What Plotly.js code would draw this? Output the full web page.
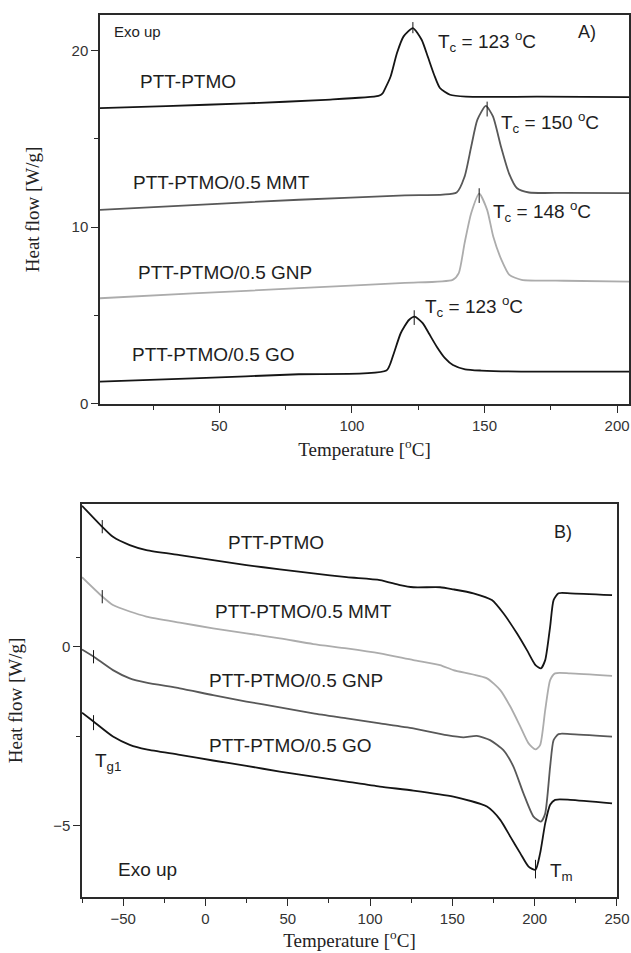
<!DOCTYPE html>
<html>
<head>
<meta charset="utf-8">
<script src="https://cdn.plot.ly/plotly-3.0.1.min.js"></script>
<style>html,body{margin:0;padding:0;background:#fff;}#chart{width:631px;height:953px;}</style>
</head>
<body>
<div id="chart"></div>
<script>
// ---------- Panel A (cooling, crystallization) ----------
const aPTT_T = [5, 30, 60, 90, 110, 111.5, 112.3, 114.6, 117, 119.5, 123, 126.3, 128.6, 131, 133.2, 137, 143, 170, 204.5];
const aPTT_V = [16.73, 16.85, 17.0, 17.2, 17.42, 17.55, 17.77, 18.52, 19.85, 20.79, 21.26, 20.6, 19.65, 18.62, 17.87, 17.49, 17.38, 17.38, 17.36];

const aMMT_T = [5, 40, 80, 120, 139.5, 142.5, 145, 147.3, 150.5, 153.2, 156.2, 159.2, 162.3, 166.8, 180, 204.5];
const aMMT_V = [10.98, 11.25, 11.55, 11.8, 11.96, 12.86, 14.56, 16.07, 16.86, 16.26, 14.56, 13.06, 12.2, 11.96, 11.94, 11.92];

const aGNP_T = [5, 40, 80, 120, 138, 140.3, 142.5, 145, 148, 151, 153.3, 156.4, 159.4, 164, 180, 204.5];
const aGNP_V = [5.98, 6.25, 6.55, 6.85, 7.02, 7.4, 9.1, 10.8, 11.9, 10.98, 9.47, 8.15, 7.3, 7.02, 6.97, 6.92];

const aGO_T = [5, 40, 80, 113, 115.4, 118.4, 121.5, 123.7, 126.7, 129, 132, 135.1, 138.1, 142.7, 148.7, 163.8, 204.5];
const aGO_V = [1.26, 1.45, 1.68, 1.89, 2.68, 4.0, 4.75, 4.94, 4.57, 4.0, 3.24, 2.59, 2.2, 1.96, 1.89, 1.83, 1.83];

// peak markers (Tc)
const tcT = [123, 151, 148, 123.5];
const tcTop = [21.6, 17.1, 12.2, 5.3];
const tcBot = [20.97, 16.26, 11.37, 4.47];

// ---------- Panel B (heating, melting) ----------
const bPTT_T = [-75, -62.7, -56.2, -46, -35.9, -15.6, 4.6, 24.9, 45.2, 65.5, 85.8, 106, 118.2, 126.3, 142.5, 150.6, 162.8, 174, 181, 189.2, 195.3, 200.5, 203.8, 206.4, 209.4, 211.5, 214.5, 221.6, 247];
const bPTT_V = [3.95, 3.36, 3.08, 2.85, 2.71, 2.57, 2.43, 2.29, 2.17, 2.06, 1.95, 1.87, 1.73, 1.67, 1.67, 1.61, 1.50, 1.31, 0.94, 0.38, -0.09, -0.51, -0.60, -0.37, 0.57, 1.31, 1.50, 1.50, 1.45];

const bMMT_T = [-75, -62.7, -56.2, -46, -35.9, -15.6, 4.6, 24.9, 45.2, 65.5, 85.8, 106, 126.3, 142.5, 150.6, 171, 179.1, 185.2, 191.3, 196.3, 200.5, 203.3, 206.4, 209.4, 212.4, 221.6, 247];
const bMMT_V = [1.95, 1.41, 1.17, 0.99, 0.85, 0.68, 0.52, 0.38, 0.24, 0.08, -0.04, -0.18, -0.37, -0.51, -0.65, -0.88, -1.21, -1.67, -2.23, -2.70, -2.87, -2.75, -1.77, -0.93, -0.74, -0.74, -0.81];

const bGNP_T = [-75, -68, -56.2, -46, -35.9, -15.6, 4.6, 24.9, 45.2, 65.5, 85.8, 106, 126.3, 146.6, 156.7, 164.8, 172.9, 181, 187.1, 193.2, 199.3, 203.8, 206.4, 209.4, 211.5, 214.5, 221.6, 247];
const bGNP_V = [-0.07, -0.27, -0.65, -0.88, -1.0, -1.16, -1.35, -1.53, -1.69, -1.86, -2.0, -2.14, -2.28, -2.47, -2.53, -2.49, -2.61, -2.89, -3.35, -4.10, -4.75, -4.89, -4.66, -3.35, -2.61, -2.44, -2.44, -2.51];

const bGO_T = [-75, -68, -56.2, -46, -35.9, -15.6, 4.6, 24.9, 45.2, 65.5, 85.8, 106, 126.3, 150.6, 171, 179.1, 185.2, 191.3, 196.3, 200.5, 203.3, 206.4, 209.4, 212.4, 221.6, 247];
const bGO_V = [-1.84, -2.09, -2.51, -2.74, -2.87, -3.02, -3.18, -3.33, -3.49, -3.63, -3.77, -3.91, -4.02, -4.19, -4.47, -4.84, -5.31, -5.78, -6.15, -6.24, -5.78, -4.94, -4.42, -4.28, -4.28, -4.38];

// glass-transition and melting markers
const tgT = [-62.7, -62.7, -68, -68];
const tgTop = [3.55, 1.59, -0.09, -1.91];
const tgBot = [3.18, 1.22, -0.46, -2.33];
const tmT = [200.5];
const tmTop = [-5.96];
const tmBot = [-6.48];

// ---------- styling ----------
const BLACK = '#151515', DARK = '#585858', LIGHT = '#acacac';
const SANS = 'Arial, "Liberation Sans", sans-serif';
const SERIF = '"Times New Roman", "Liberation Serif", serif';

function curve(x, y, color, xa, ya) {
  return {x: x, y: y, type: 'scatter', mode: 'lines', xaxis: xa, yaxis: ya,
    line: {color: color, width: 1.8, shape: 'spline', smoothing: 0.6}, hoverinfo: 'skip'};
}
function ticksTrace(xs, tops, bots, xa, ya) {
  const x = [], y = [];
  xs.forEach((t, i) => { x.push(t, t, null); y.push(bots[i], tops[i], null); });
  return {x: x, y: y, type: 'scatter', mode: 'lines', xaxis: xa, yaxis: ya,
    line: {color: BLACK, width: 1}, hoverinfo: 'skip'};
}

const data = [
  curve(aPTT_T, aPTT_V, BLACK, 'x', 'y'),
  curve(aMMT_T, aMMT_V, DARK, 'x', 'y'),
  curve(aGNP_T, aGNP_V, LIGHT, 'x', 'y'),
  curve(aGO_T, aGO_V, BLACK, 'x', 'y'),
  ticksTrace(tcT, tcTop, tcBot, 'x', 'y'),
  curve(bPTT_T, bPTT_V, BLACK, 'x2', 'y2'),
  curve(bMMT_T, bMMT_V, LIGHT, 'x2', 'y2'),
  curve(bGNP_T, bGNP_V, DARK, 'x2', 'y2'),
  curve(bGO_T, bGO_V, BLACK, 'x2', 'y2'),
  ticksTrace(tgT, tgTop, tgBot, 'x2', 'y2'),
  ticksTrace(tmT, tmTop, tmBot, 'x2', 'y2')
];

function ann(text, x, y, xa, ya, size, anchor) {
  return {text: text, x: x, y: y, xref: xa, yref: ya, showarrow: false,
    xanchor: anchor || 'center', yanchor: 'middle',
    font: {family: SANS, size: size, color: '#1e1e1e'}};
}

const annotations = [
  ann('Exo up', 9.5, 21.05, 'x', 'y', 15, 'left'),
  ann('A)', 184.7, 21.05, 'x', 'y', 18, 'left'),
  ann('PTT-PTMO', 38.3, 18.22, 'x', 'y', 19),
  ann('PTT-PTMO/0.5 MMT', 50.8, 12.51, 'x', 'y', 19),
  ann('PTT-PTMO/0.5 GNP', 52, 7.41, 'x', 'y', 19),
  ann('PTT-PTMO/0.5 GO', 47.8, 2.77, 'x', 'y', 19),
  ann('T<sub>c</sub> = 123 <sup>o</sup>C', 131.7, 20.49, 'x', 'y', 19, 'left'),
  ann('T<sub>c</sub> = 150 <sup>o</sup>C', 155.4, 15.9, 'x', 'y', 19, 'left'),
  ann('T<sub>c</sub> = 148 <sup>o</sup>C', 152.4, 10.87, 'x', 'y', 19, 'left'),
  ann('T<sub>c</sub> = 123 <sup>o</sup>C', 126.8, 5.49, 'x', 'y', 19, 'left'),

  ann('B)', 210.6, 3.22, 'x2', 'y2', 18, 'left'),
  ann('PTT-PTMO', 42.6, 2.92, 'x2', 'y2', 19),
  ann('PTT-PTMO/0.5 MMT', 59.4, 0.99, 'x2', 'y2', 19),
  ann('PTT-PTMO/0.5 GNP', 55.1, -0.93, 'x2', 'y2', 19),
  ann('PTT-PTMO/0.5 GO', 51.6, -2.75, 'x2', 'y2', 19),
  ann('T<sub>g1</sub>', -68.4, -3.21, 'x2', 'y2', 19, 'left'),
  ann('T<sub>m</sub>', 208.2, -6.29, 'x2', 'y2', 19, 'left'),
  ann('Exo up', -54.6, -6.24, 'x2', 'y2', 19, 'left')
];

function axis(extra) {
  return Object.assign({
    showline: true, mirror: true, linecolor: '#2a2a2a', linewidth: 1.5,
    ticks: 'outside', ticklen: 7, tickwidth: 1.3, tickcolor: '#2a2a2a',
    showgrid: false, zeroline: false, autorange: false,
    tickfont: {family: SANS, size: 15, color: '#333'}
  }, extra);
}

const xTitle = {text: 'Temperature [<sup>o</sup>C]', font: {family: SERIF, size: 19, color: '#222'}};
const yTitle = {text: 'Heat flow [W/g]', font: {family: SERIF, size: 19, color: '#222'}};

const layout = {
  width: 631, height: 953,
  margin: {l: 82, r: 2, t: 15, b: 56},
  paper_bgcolor: '#fff', plot_bgcolor: '#fff',
  showlegend: false,
  xaxis: axis({domain: [0.0329, 1], anchor: 'y', range: [5, 204.5], tick0: 0, dtick: 50,
    minor: {ticks: 'outside', ticklen: 4, tickwidth: 1.2, tickcolor: '#2a2a2a', tick0: 0, dtick: 25},
    title: Object.assign({standoff: 10}, xTitle)}),
  yaxis: axis({domain: [0.559, 1], anchor: 'x', range: [0, 22], tick0: 0, dtick: 10,
    minor: {ticks: 'outside', ticklen: 4, tickwidth: 1.2, tickcolor: '#2a2a2a', tick0: 0, dtick: 5},
    title: Object.assign({standoff: 27}, yTitle)}),
  xaxis2: axis({domain: [0, 0.978], anchor: 'y2', range: [-75, 250], tick0: 0, dtick: 50,
    minor: {ticks: 'outside', ticklen: 4, tickwidth: 1.2, tickcolor: '#2a2a2a', tick0: 0, dtick: 25},
    title: Object.assign({standoff: 4}, xTitle)}),
  yaxis2: axis({domain: [0, 0.4456], anchor: 'x2', range: [-7, 4], tick0: 0, dtick: 5,
    minor: {ticks: 'outside', ticklen: 4, tickwidth: 1.2, tickcolor: '#2a2a2a', tick0: 0, dtick: 2.5},
    title: Object.assign({standoff: 25}, yTitle)}),
  annotations: annotations
};

Plotly.newPlot('chart', data, layout, {displayModeBar: false});
</script>
</body>
</html>
